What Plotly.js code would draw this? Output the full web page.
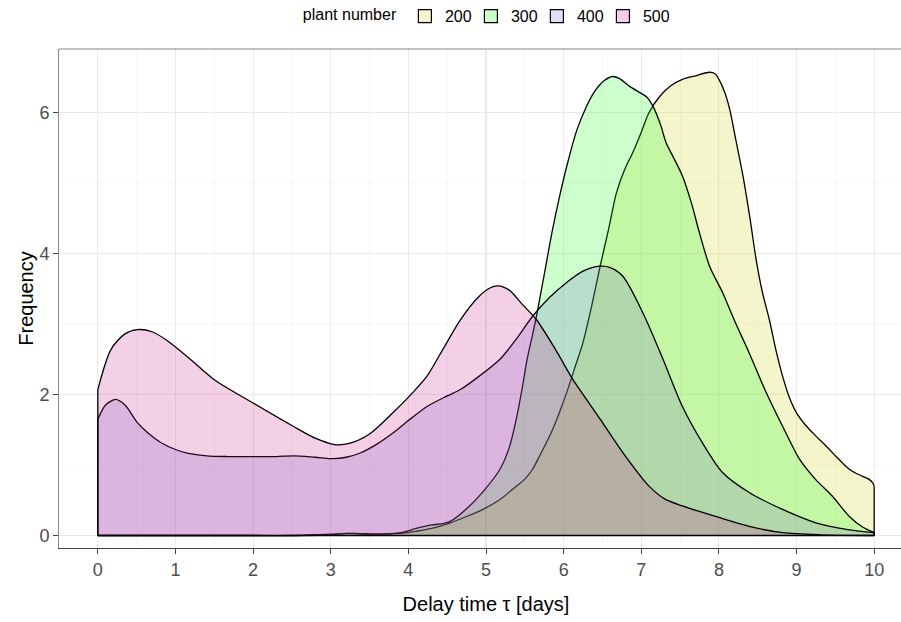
<!DOCTYPE html>
<html>
<head>
<meta charset="utf-8">
<script src="https://cdn.plot.ly/plotly-3.0.1.min.js"></script>
<style>
html,body{margin:0;padding:0;overflow:hidden;background:#fff;}
#chart{width:920px;height:622px;}
</style>
</head>
<body>
<div id="chart"></div>
<script>
// plant number groups
const groups = ["200", "300", "400", "500"];

// density estimates
const x200 = [0, 1, 2, 2.6, 3.0, 3.2, 3.5, 3.9, 4.1, 4.3, 4.54, 4.75, 4.96, 5.18, 5.39, 5.5, 5.6, 5.7, 5.82, 5.93, 6.04, 6.15, 6.25, 6.36, 6.47, 6.58, 6.68, 6.79, 6.89, 7.0, 7.1, 7.24, 7.38, 7.53, 7.7, 7.88, 7.95, 8.0, 8.07, 8.14, 8.22, 8.31, 8.4, 8.48, 8.56, 8.65, 8.73, 8.82, 8.9, 9.0, 9.12, 9.25, 9.38, 9.51, 9.6, 9.68, 9.77, 9.85, 9.93, 9.98, 10];
const y200 = [0, 0, 0, 0, 0.01, 0.03, 0.02, 0.03, 0.06, 0.1, 0.18, 0.27, 0.37, 0.51, 0.70, 0.80, 0.94, 1.15, 1.41, 1.70, 2.03, 2.40, 2.74, 3.25, 3.82, 4.35, 4.86, 5.20, 5.43, 5.72, 6.0, 6.23, 6.38, 6.47, 6.52, 6.57, 6.55, 6.47, 6.30, 6.04, 5.60, 5.10, 4.50, 3.91, 3.45, 3.06, 2.65, 2.26, 1.98, 1.74, 1.56, 1.41, 1.27, 1.12, 1.02, 0.94, 0.88, 0.84, 0.80, 0.75, 0.70];

const x300 = [0, 1, 2, 2.5, 3.0, 3.3, 3.6, 3.9, 4.1, 4.3, 4.45, 4.54, 4.75, 4.96, 5.18, 5.3, 5.39, 5.46, 5.53, 5.6, 5.65, 5.75, 5.85, 5.95, 6.05, 6.17, 6.3, 6.4, 6.52, 6.63, 6.72, 6.85, 7.0, 7.07, 7.15, 7.25, 7.32, 7.42, 7.53, 7.65, 7.75, 7.88, 8.05, 8.2, 8.39, 8.6, 8.82, 9.04, 9.25, 9.46, 9.68, 9.85, 10];
const y300 = [0, 0, 0, 0, 0.02, 0.03, 0.02, 0.04, 0.1, 0.15, 0.17, 0.2, 0.38, 0.62, 0.94, 1.25, 1.65, 2.05, 2.5, 2.85, 3.11, 3.7, 4.3, 4.82, 5.28, 5.75, 6.1, 6.3, 6.45, 6.51, 6.48, 6.37, 6.27, 6.22, 6.09, 5.82, 5.57, 5.35, 5.1, 4.7, 4.29, 3.82, 3.44, 3.05, 2.59, 2.05, 1.55, 1.08, 0.79, 0.56, 0.27, 0.12, 0.04];

const x400 = [0, 0.1, 0.23, 0.35, 0.51, 0.65, 0.81, 1.0, 1.15, 1.4, 1.67, 2.0, 2.3, 2.52, 2.8, 3.03, 3.2, 3.38, 3.6, 3.81, 4.0, 4.24, 4.5, 4.67, 4.9, 5.18, 5.4, 5.6, 5.82, 6.04, 6.25, 6.47, 6.6, 6.76, 7.02, 7.28, 7.53, 7.79, 8.05, 8.39, 8.82, 9.25, 9.68, 10];
const y400 = [1.65, 1.85, 1.93, 1.85, 1.6, 1.45, 1.32, 1.22, 1.17, 1.13, 1.12, 1.12, 1.12, 1.13, 1.11, 1.09, 1.11, 1.17, 1.3, 1.46, 1.63, 1.83, 1.98, 2.07, 2.25, 2.5, 2.8, 3.11, 3.38, 3.59, 3.75, 3.82, 3.8, 3.68, 3.16, 2.5, 1.83, 1.31, 0.89, 0.61, 0.37, 0.18, 0.08, 0.04];

const x500 = [0, 0.17, 0.35, 0.51, 0.7, 0.9, 1.15, 1.5, 2.0, 2.5, 2.8, 3.05, 3.25, 3.5, 3.8, 4.05, 4.24, 4.45, 4.67, 4.9, 5.05, 5.15, 5.3, 5.45, 5.65, 5.9, 6.12, 6.3, 6.47, 6.76, 7.1, 7.3, 7.53, 7.96, 8.39, 8.82, 9.3, 10];
const y500 = [2.07, 2.64, 2.86, 2.92, 2.89, 2.76, 2.54, 2.21, 1.88, 1.56, 1.38, 1.29, 1.31, 1.44, 1.74, 2.02, 2.26, 2.65, 3.06, 3.38, 3.51, 3.54, 3.48, 3.3, 3.06, 2.63, 2.21, 1.92, 1.65, 1.18, 0.70, 0.52, 0.42, 0.27, 0.13, 0.04, 0.01, 0];

// axis ticks
const xTicks = [0, 1, 2, 3, 4, 5, 6, 7, 8, 9, 10];
const yTicks = [0, 2, 4, 6];

const seriesX = [x200, x300, x400, x500];
const seriesY = [y200, y300, y400, y500];
const fills = ["rgba(205,205,0,0.2)", "rgba(0,255,0,0.2)", "rgba(106,90,205,0.2)", "rgba(199,21,133,0.2)"];
const keyFills = ["#f5f5cc", "#ccffcc", "#e1def5", "#f4d0e7"];

const traces = [];
groups.forEach((g, i) => {
  const xs = seriesX[i], ys = seriesY[i];
  const n = xs.length;
  // area with smooth outline
  traces.push({
    type: "scatter", mode: "lines", name: g, showlegend: false,
    x: xs, y: ys, fill: "tozeroy", fillcolor: fills[i],
    line: {color: "#000", width: 1.3, shape: "spline", smoothing: 0.8},
    hoverinfo: "skip"
  });
  // polygon edges: left side and right side (baseline drawn once below)
  traces.push({
    type: "scatter", mode: "lines", showlegend: false,
    x: [xs[0], xs[0], null, xs[n - 1], xs[n - 1]], y: [ys[0], 0, null, 0, ys[n - 1]],
    line: {color: "#000", width: 1.3}, hoverinfo: "skip"
  });
});
// common baseline of the density polygons
traces.push({
  type: "scatter", mode: "lines", showlegend: false,
  x: [xTicks[0], xTicks[xTicks.length - 1]], y: [0, 0],
  line: {color: "#000", width: 1.4}, hoverinfo: "skip"
});
// legend keys
groups.forEach((g, i) => {
  traces.push({
    type: "scatter", mode: "markers", name: g, x: [null], y: [null],
    marker: {symbol: "square", size: 13, color: keyFills[i], line: {color: "#000", width: 1.2}},
    hoverinfo: "skip"
  });
});

const font = "Arial, 'Liberation Sans', Helvetica, sans-serif";
const layout = {
  width: 920, height: 622,
  margin: {l: 59, r: 7, t: 49, b: 73.5},
  paper_bgcolor: "#fff", plot_bgcolor: "#fff",
  font: {family: font, color: "#000"},
  showlegend: true,
  legend: {
    orientation: "h", xref: "container", yref: "container",
    x: 0.327, xanchor: "left", y: 0.974, yanchor: "middle",
    title: {text: "plant number", font: {size: 16, color: "#000"}, side: "left"},
    font: {size: 16, color: "#000"}, itemwidth: 30, entrywidth: 21,
    bgcolor: "rgba(0,0,0,0)"
  },
  xaxis: {
    range: [-0.5, 10.5], tickvals: xTicks, ticktext: xTicks.map(String),
    showgrid: true, gridcolor: "#ebebeb", gridwidth: 1.1,
    minor: {dtick: 0.5, tick0: 0, showgrid: true, gridcolor: "#f2f2f2", gridwidth: 0.6},
    zeroline: false, showline: true, linecolor: "#444", linewidth: 1,
    ticks: "outside", ticklen: 5, tickcolor: "#444", tickwidth: 1,
    tickfont: {size: 18, color: "#4d4d4d"}, automargin: false,
    title: {text: "Delay time τ [days]", font: {size: 20, color: "#000"}, standoff: 18},
    fixedrange: true
  },
  yaxis: {
    range: [-0.177, 6.9], tickvals: yTicks, ticktext: yTicks.map(String),
    showgrid: true, gridcolor: "#ebebeb", gridwidth: 1.1,
    minor: {dtick: 1, tick0: 0, showgrid: true, gridcolor: "#f2f2f2", gridwidth: 0.6},
    zeroline: false, showline: true, mirror: true, linecolor: "#888", linewidth: 1,
    ticks: "outside", ticklen: 5, tickcolor: "#444", tickwidth: 1,
    tickfont: {size: 18, color: "#4d4d4d"}, automargin: false,
    title: {text: "Frequency", font: {size: 20, color: "#000"}, standoff: 0},
    fixedrange: true
  },
  shapes: [{type: "line", xref: "paper", yref: "paper", x0: 0, x1: 1, y0: 1, y1: 1,
            line: {color: "#888", width: 1}, layer: "above"}]
};

Plotly.newPlot("chart", traces, layout, {displayModeBar: false, staticPlot: true});
</script>
</body>
</html>
